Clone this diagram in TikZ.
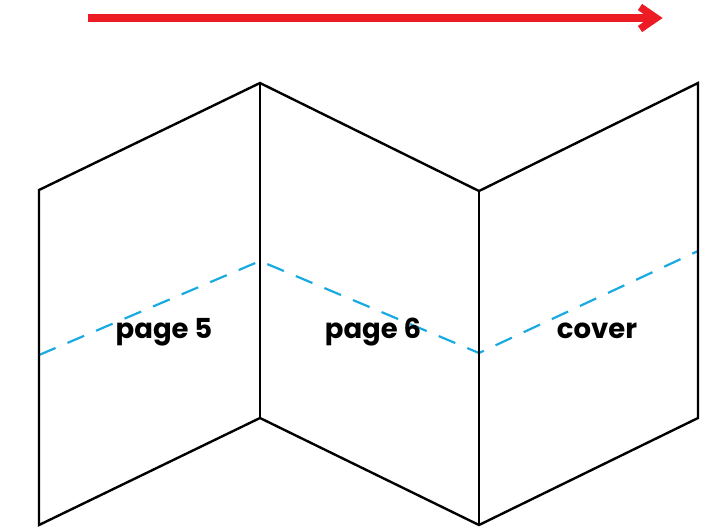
\documentclass[tikz,border=0pt]{standalone}
\usepackage{fontspec}
\setmainfont{Poppins}
\usetikzlibrary{arrows.meta}
\definecolor{arrowred}{HTML}{ED1C24}
\definecolor{foldblue}{HTML}{1AAAE2}
\begin{document}
\begin{tikzpicture}[x=1pt,y=-1pt,
  panel/.style={draw=black,line width=2.4pt,line join=miter},
  fold/.style={draw=foldblue,line width=2.2pt,dash pattern=on 18pt off 13pt},
  lbl/.style={font=\fontsize{27.5}{30}\selectfont\bfseries,anchor=base,inner sep=0pt},
  bigarrow/.style={draw=arrowred,line width=7.5pt}]
\useasboundingbox (0,0) rectangle (708,531);
% vertices
\coordinate (A1) at (39,190);
\coordinate (A2) at (39,525);
\coordinate (B1) at (260,83);
\coordinate (B2) at (260,418);
\coordinate (C1) at (479,191);
\coordinate (C2) at (479,525);
\coordinate (D1) at (698,83);
\coordinate (D2) at (698,418);
% fold line points
\coordinate (F1) at (39,355);
\coordinate (F2) at (260,261);
\coordinate (F3) at (479,353);
\coordinate (F4) at (698,251);
% arrow
\coordinate (S) at (88,18);
\coordinate (T) at (654,18);
\coordinate (H1) at (640,7);
\coordinate (H2) at (656,18);
\coordinate (H3) at (640,29);
\draw[bigarrow] (S) -- (T);
\draw[bigarrow,line cap=butt,miter limit=10] (H1) -- (H2) -- (H3);
% fold dashed
\draw[fold] (F1) -- (F2) -- (F3) -- (F4);
% panels
\draw[panel] (A1) -- (B1) -- (C1) -- (D1) -- (D2) -- (C2) -- (B2) -- (A2) -- cycle;
\draw[panel] (B1) -- (B2);
\draw[panel] (C1) -- (C2);
% labels
\node[lbl] (p5) at (164,338) {page 5};
\node[lbl] (p6) at (373,338) {page 6};
\node[lbl] (cv) at (597,338) {cover};
\end{tikzpicture}
\end{document}
